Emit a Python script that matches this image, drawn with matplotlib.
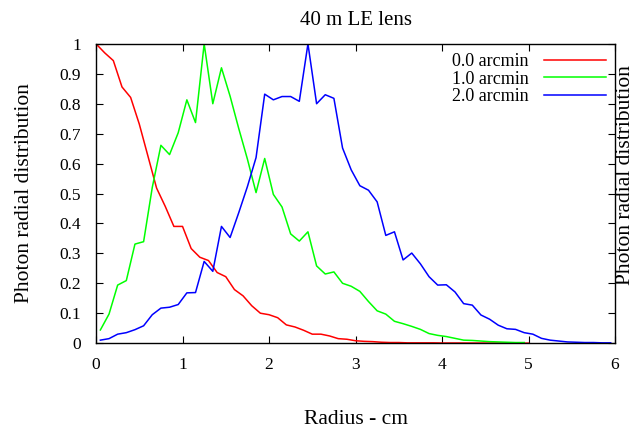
import numpy as np
import matplotlib
matplotlib.use("Agg")
import matplotlib.pyplot as plt

plt.rcParams['font.family'] = ['Liberation Serif', 'DejaVu Serif']

# radius bins (cm)
r_red = np.round(np.arange(0, 51) * 0.1, 2)
r_green = np.round(0.05 + np.arange(0, 50) * 0.1, 2)
r_blue = np.round(0.05 + np.arange(0, 60) * 0.1, 2)

red = [1.0, 0.97, 0.944, 0.856, 0.821, 0.732, 0.625, 0.518, 0.457, 0.39,
       0.39, 0.316, 0.287, 0.276, 0.236, 0.222, 0.179, 0.158, 0.125, 0.1,
       0.095, 0.085, 0.061, 0.054, 0.043, 0.03, 0.03, 0.024, 0.015, 0.013,
       0.008, 0.006, 0.005, 0.003, 0.002, 0.002, 0.001, 0.001, 0.001, 0.001,
       0.0005, 0.0005, 0.0005, 0.0003, 0.0003, 0.0002, 0.0002, 0.0001, 0.0001, 0.0001,
       0.0]

green = [0.044, 0.097, 0.194, 0.209, 0.331, 0.339, 0.52, 0.661, 0.63, 0.703,
         0.813, 0.737, 1.0, 0.80, 0.92, 0.825, 0.717, 0.615, 0.503, 0.617,
         0.497, 0.455, 0.365, 0.341, 0.372, 0.258, 0.231, 0.238, 0.2, 0.19,
         0.173, 0.139, 0.108, 0.097, 0.073, 0.065, 0.056, 0.046, 0.032, 0.026,
         0.022, 0.016, 0.01, 0.009, 0.007, 0.005, 0.004, 0.003, 0.002, 0.002]

blue = [0.01, 0.015, 0.03, 0.035, 0.045, 0.058, 0.095, 0.117, 0.12, 0.129,
        0.168, 0.169, 0.273, 0.24, 0.39, 0.353, 0.436, 0.523, 0.62, 0.832,
        0.813, 0.824, 0.824, 0.808, 1.0, 0.8, 0.83, 0.818, 0.652, 0.579,
        0.526, 0.511, 0.472, 0.36, 0.372, 0.278, 0.301, 0.265, 0.222, 0.194,
        0.195, 0.171, 0.132, 0.127, 0.094, 0.08, 0.06, 0.048, 0.046, 0.035,
        0.03, 0.016, 0.01, 0.007, 0.004, 0.003, 0.002, 0.002, 0.001, 0.001]

labels = ['0.0 arcmin', '1.0 arcmin', '2.0 arcmin']

fig = plt.figure(figsize=(6.36, 4.30), dpi=100)
ax = fig.add_axes([0.151, 0.202, 0.816, 0.696])

ax.plot(r_red, red, color='#ff0000', lw=1.1, label=labels[0])
ax.plot(r_green, green, color='#00ff00', lw=1.1, label=labels[1])
ax.plot(r_blue, blue, color='#0000ff', lw=1.1, label=labels[2])

ax.set_xlim(0, 6)
ax.set_ylim(0, 1)
ax.set_xticks(range(0, 7))
yt = np.round(np.arange(0, 1.01, 0.1), 1)
ax.set_yticks(yt)
ax.set_yticklabels(['0' if v == 0 else ('1' if v == 1 else f'{v:g}') for v in yt])
ax.tick_params(direction='in', top=True, right=True, length=5, width=0.8,
               labelsize=12.5)
ax.tick_params(axis='y', pad=11)
ax.tick_params(axis='x', pad=10)
for s in ax.spines.values():
    s.set_linewidth(1.0)

ax.set_title('40 m LE lens', fontsize=15, y=1.035)
ax.set_xlabel('Radius - cm', fontsize=15.5)
ax.set_ylabel('Photon radial distribution', fontsize=15.5)
ax.xaxis.set_label_coords(0.5, -0.225)
ax.yaxis.set_label_coords(-0.12, 0.5)

leg = ax.legend(loc='upper right', frameon=False, markerfirst=False,
                handlelength=3.4, fontsize=13, borderaxespad=0.12,
                labelspacing=0.02, handletextpad=0.85)

# neighbouring panel's y label at the right edge
fig.text(0.999, 0.593, 'Photon radial distribution', rotation=90,
         fontsize=15.5, ha='right', va='center')

fig.savefig('out.png', dpi=100)
